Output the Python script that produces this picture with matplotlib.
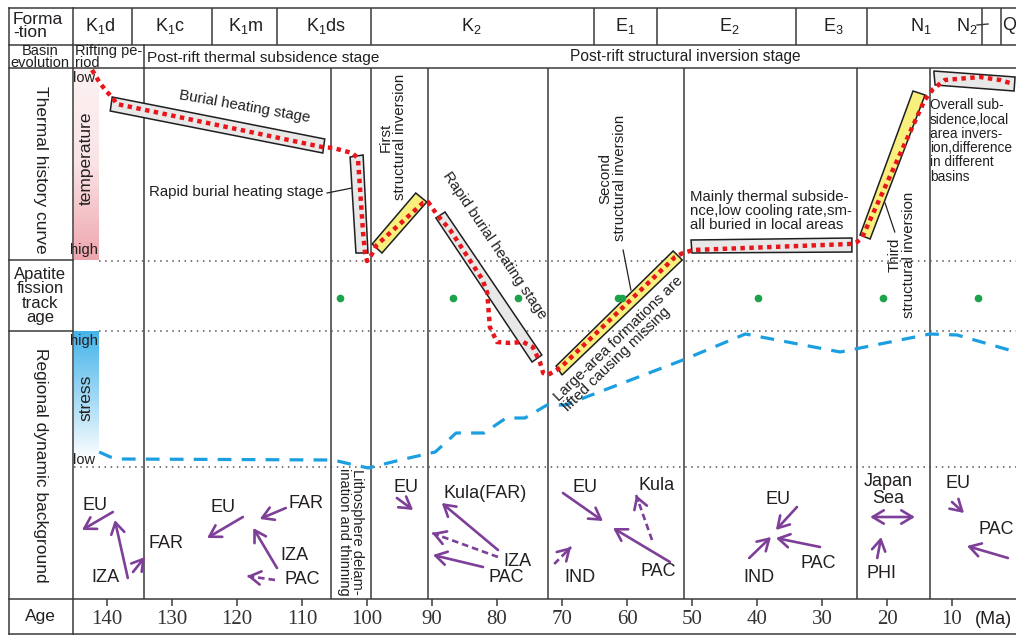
import numpy as np
import matplotlib
matplotlib.use("Agg")
import matplotlib.pyplot as plt
from matplotlib.colors import LinearSegmentedColormap
from matplotlib.patches import Polygon

plt.rcParams.update({
    "font.family": "sans-serif",
    "font.sans-serif": ["Liberation Sans", "DejaVu Sans"],
    "mathtext.fontset": "custom",
    "mathtext.rm": "Liberation Sans",
    "mathtext.it": "Liberation Sans:italic",
    "mathtext.bf": "Liberation Sans:bold",
    "text.color": "#231f20",
})

W, H = 1016, 635
PX_PER_MA = 6.5          # horizontal scale of the age axis


def age(px):
    return 140 - (px - 107) / PX_PER_MA


# ---- data ---------------------------------------------------------------
formations = ["K$_1$d", "K$_1$c", "K$_1$m", "K$_1$ds", "K$_2$", "E$_1$",
              "E$_2$", "E$_3$", "N$_1$", "N$_2$", "Q"]
formation_mid = [141.1, 130.3, 118.6, 106.3, 84.0, 60.3, 44.3, 28.3, 14.8, 7.8, 1.2]
formation_bounds = [136.2, 123.8, 113.8, 99.4, 65.1, 55.4, 34.0, 23.1, 5.4, 2.5]
stage_bounds = [134.3, 105.5, 99.4, 90.6, 72.2, 51.2, 24.6, 13.4]

# thermal history curve (age in Ma, level in px: small = low temperature)
temp_age = [142.3, 141.1, 140.0, 139.1, 138.5, 106.9, 105.2, 102.3, 101.4,
            100.6, 100.3, 100.0, 99.5, 98.5, 91.4, 90.6, 89.2, 87.2, 82.2,
            81.5, 81.1, 80.0, 78.0, 76.0, 74.5, 73.4, 72.9, 72.2, 70.3,
            52.6, 51.4, 49.8, 25.7, 24.6, 23.8, 14.2, 12.9, 11.1, 5.7, 2.6, 0.6]
temp_level = [70, 83, 92, 98, 104, 147, 148, 153, 158,
              233, 253, 261, 257, 245, 203, 202, 215, 230, 280,
              293, 327, 342, 343, 342, 347, 362, 373, 375, 368,
              257, 253, 250, 244, 242, 237, 100, 89, 80, 77, 80, 84]

# regional stress curve (level in px: small = high stress)
stress_age = [141.2, 139.5, 138.0, 105.2, 102.6, 99.8, 94.9, 89.5, 86.3, 82.0,
              78.6, 75.7, 72.3, 69.5, 51.4, 41.8, 27.2, 13.4, 9.2, 0.15]
stress_level = [452, 457, 459, 460, 464, 468, 460, 452, 433, 433,
                418, 418, 405, 405, 360, 334, 352, 334, 335, 352]

# apatite fission track ages
aft_age = [104.2, 86.8, 76.8, 61.4, 60.8, 39.8, 20.6, 6.0]

age_ticks = [140, 130, 120, 110, 100, 90, 80, 70, 60, 50, 40, 30, 20, 10]

# stage boxes: corners (age, level), fill
boxes = [
    ([139.2, 106.5, 106.8, 139.5], [97, 139, 153, 111], "grey"),
    ([102.6, 100.6, 99.85, 101.7], [157, 155, 253, 253], "grey"),
    ([99.2, 97.7, 90.8, 92.5], [244, 253, 202, 193], "yellow"),
    ([89.4, 88.0, 73.1, 74.6], [218, 212, 355, 362], "grey"),
    ([70.9, 70.0, 51.5, 52.9], [366, 375, 260, 251], "yellow"),
    ([50.15, 50.0, 25.4, 25.4], [240, 253, 252, 238], "grey"),
    ([24.15, 22.6, 14.15, 16.0], [235, 239, 95, 91], "yellow"),
    ([12.8, 0.3, 0.45, 12.6], [71, 77, 91, 85], "grey"),
]

# plate motion arrows: (tail age, tail level, head age, head level, dashed)
plate_arrows = [
    (139.1, 512, 143.85, 530, False),
    (136.8, 578, 138.8, 520, False),
    (136.0, 572, 134.15, 557, False),
    (119.1, 517, 124.6, 538, False),
    (112.5, 508, 116.5, 519, False),
    (113.85, 568, 117.5, 528, False),
    (114.15, 580, 118.45, 576, True),
    (95.4, 498, 92.9, 510, False),
    (79.85, 550, 88.5, 503, False),
    (79.85, 557, 90.0, 533, True),
    (82.15, 567, 89.85, 555, False),
    (69.85, 493, 63.7, 521, False),
    (53.4, 562, 62.15, 528, False),
    (56.15, 540, 58.6, 495, True),
    (71.2, 564, 68.6, 547, True),
    (33.85, 507, 37.1, 530, False),
    (30.3, 547, 37.1, 538, False),
    (41.2, 558, 37.85, 537, False),
    (21.5, 558, 20.9, 537, False),
    (10.0, 502, 8.15, 513, False),
    (1.4, 558, 7.7, 546, False),
]

plate_labels = ["EU", "IZA", "FAR", "EU", "FAR", "IZA", "PAC", "EU", "Kula(FAR)",
                "IZA", "PAC", "EU", "Kula", "IND", "PAC", "EU", "PAC", "IND",
                "Japan\nSea", "PHI", "EU", "PAC"]
plate_label_age = [141.85, 140.3, 130.9, 122.15, 109.4, 111.1, 110.0, 94.0, 81.8,
                   76.8, 78.5, 66.5, 55.5, 67.2, 55.2, 36.8, 30.6, 39.7,
                   19.85, 20.8, 9.1, 3.2]
plate_label_level = [505, 577, 543, 508, 503, 555, 580, 488, 494,
                     561, 577, 487, 485, 578, 572, 499, 564, 578,
                     490, 574, 484, 529]

# ---- figure -------------------------------------------------------------
LC = "#3a3a3a"
PURPLE = "#7d3f98"
RED = "#e8151b"
BLUE = "#1b9fe0"
GREEN = "#1aa34a"

fig = plt.figure(figsize=(W / 100, H / 100), dpi=100)
fr = fig.add_axes([0, 0, 1, 1])
ax = fig.add_axes([0, 0, 1, 1])
ax.patch.set_alpha(0)

# colour bars
t_cmap = LinearSegmentedColormap.from_list("t", ["#fdf2f3", "#f9e3e5", "#eea6ad"])
s_cmap = LinearSegmentedColormap.from_list("s", ["#45b4ea", "#9fd8f4", "#ffffff"])
grad = np.linspace(0, 1, 200).reshape(-1, 1)
fr.imshow(grad, extent=[74, 99, 260, 68], aspect="auto", cmap=t_cmap)
fr.imshow(grad, extent=[74, 99, 460, 331], aspect="auto", cmap=s_cmap)
fr.set_xlim(0, W)
fr.set_ylim(H, 0)
fr.axis("off")

# table frame
for y in [8, 45, 68, 599, 634]:
    fr.plot([9, W], [y, y], color=LC, lw=1.1)
for y in [260, 331]:
    fr.plot([9, 73], [y, y], color=LC, lw=1.1)
for x in [9, 73]:
    fr.plot([x, x], [8, 634], color=LC, lw=1.1)
fr.plot([144, 144], [45, 68], color=LC, lw=1.1)

ax.set_xlim(age(0), age(W))
ax.set_ylim(H, 0)
ax.axis("off")
ax.vlines(formation_bounds, 8, 45, color=LC, lw=1.1)
ax.vlines(stage_bounds, 68, 599, color=LC, lw=1.1)
ax.plot([6.15, 4.45], [25, 24], color=LC, lw=1.0)
for y, start in [(261, age(99)), (331, age(99)), (467, age(74))]:
    ax.plot([start, age(W)], [y, y], color="#555555", lw=1.1, ls=(0, (1, 3)))

# age axis
ax.vlines(age_ticks, 599, 606, color=LC, lw=1.1)
for t in age_ticks:
    ax.text(t, 620, str(t), ha="center", va="center", fontsize=15,
            family=["Liberation Serif", "DejaVu Serif"], color="#333333")
fr.text(993, 619, "(Ma)", ha="center", va="center", fontsize=13)

# header
fr.text(13, 26, "Forma\n-tion", ha="left", va="center", fontsize=12.5,
        linespacing=0.85)
fr.text(40, 57, "Basin\nevolution", ha="center", va="center", fontsize=10.5,
        linespacing=0.75)
for name, a in zip(formations, formation_mid):
    ax.text(a, 26, name, ha="center", va="center", fontsize=13)
fr.text(75, 57, "Rifting pe-\nriod", ha="left", va="center", fontsize=10.5,
        linespacing=0.8)
fr.text(147, 58, "Post-rift thermal subsidence stage", ha="left", va="center",
        fontsize=11.1)
fr.text(685, 57, "Post-rift structural inversion stage", ha="center",
        va="center", fontsize=11.2)

# row titles
fr.text(40, 170, "Thermal history curve", rotation=-90, ha="center",
        va="center", fontsize=12.5)
fr.text(40, 296, "Apatite\nfission\ntrack\nage", ha="center", va="center",
        fontsize=12, linespacing=0.95)
fr.text(40, 465, "Regional dynamic background", rotation=-90, ha="center",
        va="center", fontsize=12.5)
fr.text(40, 617, "Age", ha="center", va="center", fontsize=12.5)

# colour bar labels
fr.text(84, 78, "low", ha="center", va="center", fontsize=10.5)
fr.text(84, 250, "high", ha="center", va="center", fontsize=10.5)
fr.text(86, 158, "temperature", rotation=90, ha="center", va="center", fontsize=12.5)
fr.text(84, 341, "high", ha="center", va="center", fontsize=10.5)
fr.text(86, 398, "stress", rotation=90, ha="center", va="center", fontsize=12.5)
fr.text(84, 460, "low", ha="center", va="center", fontsize=10.5)

# stage boxes
fills = {"grey": "#e8e8e8", "yellow": "#f8ef7c"}
for xs, ys, kind in boxes:
    ax.add_patch(Polygon(list(zip(xs, ys)), closed=True, facecolor=fills[kind],
                         edgecolor="#1f1f1f", lw=1.1, zorder=3))

# curves
ax.plot(temp_age, temp_level, color=RED, lw=3.2, ls=(0, (1, 1)), zorder=5)
ax.plot(stress_age, stress_level, color=BLUE, lw=2.3, ls=(0, (4.3, 3.2)), zorder=5)
ax.plot(aft_age, [298] * len(aft_age), "o", color=GREEN, ms=4.5, zorder=5)

# annotations of the thermal history
ann = dict(fontsize=10.8, rotation_mode="anchor", ha="center", va="center", zorder=6)
ax.text(118.9, 107, "Burial heating stage", rotation=-10, **ann)
ax.text(120.15, 192, "Rapid burial heating stage", **ann)
ax.plot([106.15, 102.3], [193, 188], color="#222222", lw=0.9)
ax.text(96.0, 137, "First\nstructural inversion", rotation=90, linespacing=1.0, **ann)
ax.text(80.3, 245, "Rapid burial heating stage", rotation=-56, **ann)
ax.text(62.2, 178, "Second\nstructural inversion", rotation=90, linespacing=1.0, **ann)
ax.plot([60.6, 59.4], [250, 290], color="#222222", lw=0.9)
ax.text(60.6, 344, "Large-area formations are\nlifted causing missing", rotation=44,
        multialignment="left", linespacing=0.95, **ann)
ax.text(17.7, 255, "Third\nstructural inversion", rotation=90, linespacing=1.0, **ann)
ax.plot([20.3, 18.8], [203, 232], color="#222222", lw=0.9)
ax.text(age(690), 211, "Mainly thermal subside-\nnce,low cooling rate,sm-\nall buried in local areas",
        ha="left", va="center", fontsize=10.8, linespacing=1.0)
ax.text(age(930), 141, "Overall sub-\nsidence,local\narea invers-\nion,difference\nin different\nbasins",
        ha="left", va="center", fontsize=9.8, linespacing=1.02)

# plate motion
for ta, tl, ha_, hl, dashed in plate_arrows:
    if dashed:
        ax.plot([ta, ha_], [tl, hl], color=PURPLE, lw=1.9, ls=(0, (2.5, 1.5)))
        seg = np.hypot((ta - ha_) * PX_PER_MA, tl - hl)
        f = 6 / seg
        start = (ha_ + f * (ta - ha_), hl + f * (tl - hl))
    else:
        start = (ta, tl)
    ax.annotate("", xy=(ha_, hl), xytext=start,
                arrowprops=dict(arrowstyle="->,head_length=0.8,head_width=0.48",
                                color=PURPLE, lw=1.9, shrinkA=0, shrinkB=0))
ax.annotate("", xy=(15.7, 517), xytext=(22.6, 517),
            arrowprops=dict(arrowstyle="<->,head_length=0.8,head_width=0.48",
                            color=PURPLE, lw=1.9, shrinkA=0, shrinkB=0))

for lab, a, lv in zip(plate_labels, plate_label_age, plate_label_level):
    ax.text(a, lv, lab, ha="center", va="center", fontsize=13, linespacing=1.0)
ax.text(102.5, 532, "Lithosphere delam-\nination and thinning", rotation=-90,
        ha="center", va="center", fontsize=10.5, linespacing=0.9)

fig.savefig("out.png", dpi=100)
